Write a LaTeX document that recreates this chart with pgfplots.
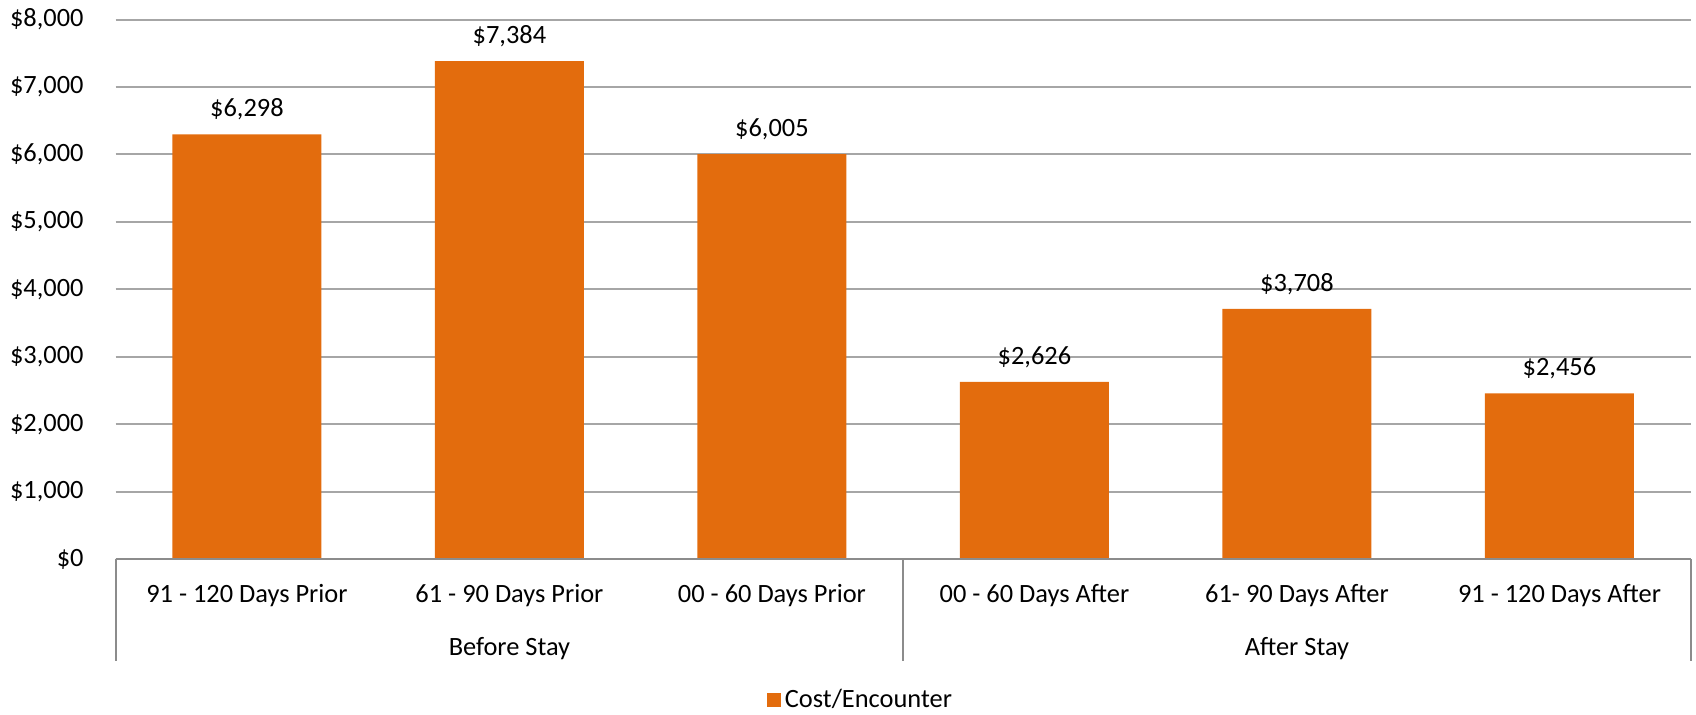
\documentclass[border=0pt]{standalone}
\usepackage{pgfplots}
\pgfplotsset{compat=1.18}
\usepackage{fontspec}
\setmainfont{Carlito}
\definecolor{barorange}{HTML}{E36C0D}
\definecolor{gridgray}{HTML}{A6A6A6}
\definecolor{axisgray}{HTML}{8C8C8C}
\begin{document}
\fontsize{13.2pt}{15.8pt}\selectfont
\begin{tikzpicture}
\useasboundingbox (-57.85pt,-77.5pt) rectangle (790.15pt,279.5pt);
\begin{axis}[
  at={(0pt,0pt)}, anchor=south west,
  scale only axis, width=787.5pt, height=269.75pt,
  xmin=-0.5, xmax=5.5, ymin=0, ymax=8000,
  ytick={0,1000,...,8000},
  xtick={0,...,5},
  xticklabels={91 - 120 Days Prior, 61 - 90 Days Prior, 00 - 60 Days Prior, 00 - 60 Days After, 61- 90 Days After, 91 - 120 Days After},
  major tick length=0pt,
  ymajorgrids, grid style={gridgray, line width=1pt},
  axis line style={draw=none},
  yticklabel={\$\pgfmathprintnumber[assume math mode=true,fixed,precision=0,1000 sep={,}]{\tick}},
  yticklabel style={anchor=east, xshift=-11.45pt},
  xticklabel style={anchor=base, yshift=-21.6pt},
  ybar, bar width=74.5pt,
  nodes near coords={\$\pgfmathprintnumber[assume math mode=true,fixed,precision=0,1000 sep={,}]{\pgfplotspointmeta}},
  every node near coord/.append style={anchor=base, yshift=8.8pt, text=black},
  clip=false,
  legend style={at={(axis description cs:0.4735,0)}, anchor=center, yshift=-70.5pt, draw=none, fill=none, font=\fontsize{13.2pt}{15.8pt}\selectfont},
  legend image code/.code={\fill[barorange] (0pt,-3.5pt) rectangle (7pt,3.5pt);},
]
\addplot[fill=barorange, draw=none] coordinates {(0,6298) (1,7384) (2,6005) (3,2626) (4,3708) (5,2456)};
\addlegendentry{Cost/Encounter}
\draw[axisgray, line width=1pt] (axis cs:-0.5,0) -- (axis cs:5.5,0);
\draw[axisgray, line width=1pt] (axis cs:-0.5,0) -- ([yshift=-51pt]axis cs:-0.5,0);
\draw[axisgray, line width=1pt] (axis cs:2.5,0) -- ([yshift=-51pt]axis cs:2.5,0);
\draw[axisgray, line width=1pt] (axis cs:5.5,0) -- ([yshift=-51pt]axis cs:5.5,0);
\node[anchor=base] at ([yshift=-48pt]axis cs:1,0) {Before Stay};
\node[anchor=base] at ([yshift=-48pt]axis cs:4,0) {After Stay};
\end{axis}
\end{tikzpicture}
\end{document}
